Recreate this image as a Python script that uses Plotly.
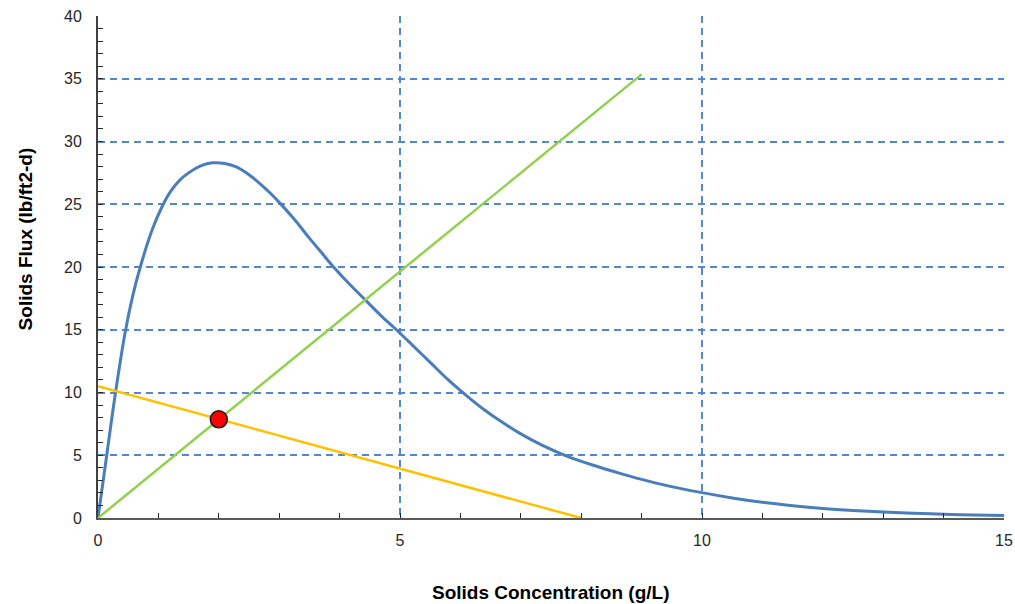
import plotly.graph_objects as go

# Blue curve: solids flux vs concentration
conc = [0, 0.15, 0.29, 0.45, 0.57, 0.7, 0.9, 1.06, 1.2, 1.35, 1.5, 1.7, 1.9, 2.1, 2.3,
        2.5, 2.68, 2.85, 3.02, 3.25, 3.5, 3.7, 3.9, 4.15, 4.42, 4.68, 4.94, 5.2, 5.5,
        5.8, 6.1, 6.4, 6.7, 7.0, 7.35, 7.75, 8.2, 8.6, 9.0, 9.4, 10, 10.5, 11, 11.5,
        12, 12.5, 13, 13.5, 14, 14.5, 15]
flux = [0, 5.2, 10, 14.8, 17.6, 20, 23.0, 24.8, 26.0, 26.9, 27.5, 28.05, 28.3, 28.25, 27.95,
        27.35, 26.65, 25.9, 25.05, 23.8, 22.3, 21.15, 20, 18.7, 17.4, 16.15, 15, 13.8, 12.4,
        11.0, 9.75, 8.6, 7.6, 6.7, 5.8, 4.95, 4.2, 3.62, 3.08, 2.6, 2.02, 1.6, 1.25, 0.98,
        0.76, 0.6, 0.48, 0.38, 0.3, 0.24, 0.2]

# Green line
green_x = [0, 9]
green_y = [0, 35.35]

# Orange line
orange_x = [0, 8]
orange_y = [10.5, 0]

# Red state point
point_x = [2]
point_y = [7.86]

fig = go.Figure()
fig.add_trace(go.Scatter(x=conc, y=flux, mode="lines",
                         line=dict(color="#4A7EBB", width=3, shape="spline", smoothing=1.0),
                         showlegend=False))
fig.add_trace(go.Scatter(x=green_x, y=green_y, mode="lines",
                         line=dict(color="#92D050", width=2.5), showlegend=False))
fig.add_trace(go.Scatter(x=orange_x, y=orange_y, mode="lines",
                         line=dict(color="#FFC000", width=2.5), showlegend=False))
fig.add_trace(go.Scatter(x=point_x, y=point_y, mode="markers",
                         marker=dict(color="#FF0000", size=17, line=dict(color="#1a1a1a", width=1.5)),
                         showlegend=False))

tickfont = dict(family="Liberation Sans, Arial, sans-serif", size=16, color="#262626")
gridcol = "#5587CC"

fig.update_xaxes(range=[0, 15], dtick=5, tick0=0,
                 showgrid=True, gridcolor=gridcol, griddash="7px,5px", gridwidth=1.5,
                 showline=True, linecolor="#595959", linewidth=2,
                 ticks="inside", ticklen=5, tickcolor="#262626",
                 minor=dict(dtick=1, ticks="inside", ticklen=5, tickcolor="#262626", showgrid=False),
                 tickfont=tickfont, zeroline=False, ticklabelstandoff=7)
fig.update_yaxes(range=[0, 40], dtick=5, tick0=0,
                 showgrid=True, gridcolor=gridcol, griddash="7px,5px", gridwidth=1.5,
                 showline=True, linecolor="#404040", linewidth=2,
                 ticks="inside", ticklen=5, tickcolor="#262626",
                 minor=dict(dtick=1, ticks="inside", ticklen=5, tickcolor="#262626", showgrid=False),
                 tickfont=tickfont, zeroline=False, ticklabelstandoff=11)

titlefont = dict(family="Liberation Sans, Arial, sans-serif", size=19, color="#000000")
fig.add_annotation(text="<b>Solids Concentration (g/L)</b>", xref="paper", yref="paper",
                   x=0.5, y=0, yshift=-74, showarrow=False, font=titlefont,
                   xanchor="center", yanchor="middle")
fig.add_annotation(text="<b>Solids Flux (lb/ft2-d)</b>", xref="paper", yref="paper",
                   x=0, y=0.555, xshift=-73, showarrow=False, font=titlefont,
                   textangle=-90, xanchor="center", yanchor="middle")

fig.update_layout(width=1015, height=604,
                  margin=dict(l=98, r=11, t=16, b=86, autoexpand=False),
                  plot_bgcolor="white", paper_bgcolor="white")

fig.write_html("out.html", config={"displayModeBar": False},
               post_script="document.body.style.margin='0';document.body.style.overflow='hidden';")
